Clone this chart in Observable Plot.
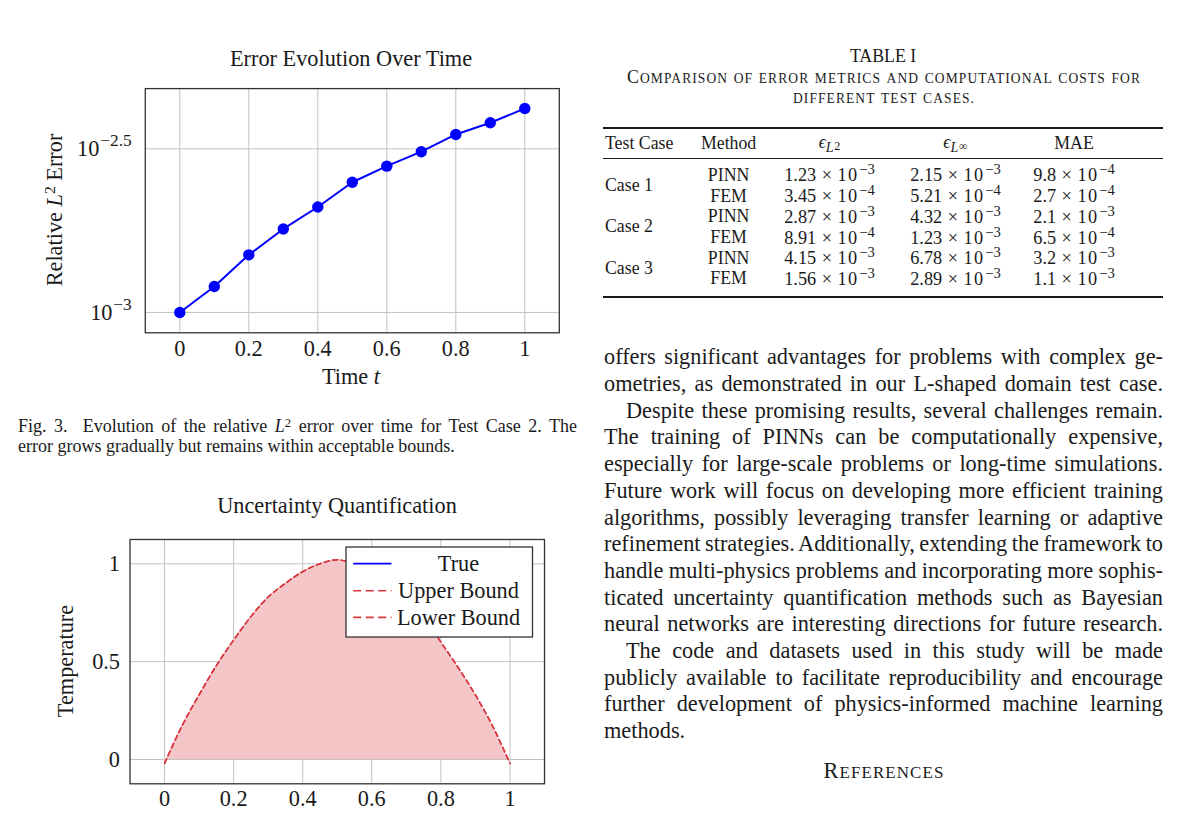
<!DOCTYPE html>
<html><head><meta charset="utf-8">
<script src="https://cdn.jsdelivr.net/npm/d3@7"></script>
<script src="https://cdn.jsdelivr.net/npm/@observablehq/plot@0.6"></script>
<style>
html,body{margin:0;padding:0;background:#fff;}
#page{position:relative;width:1200px;height:832px;overflow:hidden;background:#fff;font-family:"Liberation Serif","Times New Roman",serif;color:#1a1a1a;}
.t{position:absolute;line-height:1;white-space:nowrap;}
.sup{position:relative;top:-0.45em;font-size:0.7em;}
.vsup{position:relative;top:-0.48em;font-size:0.8em;margin-left:0.04em;}
.sub{position:relative;top:0.3em;font-size:0.8em;}
.hsup{position:relative;top:-0.2em;font-size:0.85em;margin-left:0.05em;}
.times{margin:0 0.3em;}
.ten{letter-spacing:0.08em;}
.rule{position:absolute;background:#1a1a1a;}
.abs{position:absolute;}
</style></head>
<body><div id="page"></div>
<script>
// ---------------- data: Fig. 3 (error evolution) ----------------
const timeT   = [0, 0.1, 0.2, 0.3, 0.4, 0.5, 0.6, 0.7, 0.8, 0.9, 1.0];
const relErr  = [0.00100, 0.00120, 0.00150, 0.00180, 0.00210, 0.00250, 0.00280, 0.00310, 0.00350, 0.00380, 0.00420];
const errXTicks = [0, 0.2, 0.4, 0.6, 0.8, 1];
const errYTicks = [Math.pow(10, -3), Math.pow(10, -2.5)];
const errYExp   = ["\u22123", "\u22122.5"];

// ---------------- data: uncertainty quantification ----------------
const posX       = [0, 0.05, 0.1, 0.15, 0.2, 0.25, 0.3, 0.35, 0.4, 0.45, 0.5, 0.55, 0.6, 0.65, 0.7, 0.75, 0.8, 0.85, 0.9, 0.95, 1.0];
const upperBound = [-0.02, 0.17, 0.33, 0.48, 0.61, 0.73, 0.83, 0.90, 0.96, 1.00, 1.02, 1.00, 0.96, 0.90, 0.83, 0.73, 0.60, 0.47, 0.33, 0.17, -0.02];
const lowerBound = [-0.02, 0.17, 0.33, 0.48, 0.61, 0.73, 0.83, 0.90, 0.96, 1.00, 1.02, 1.00, 0.96, 0.90, 0.83, 0.73, 0.60, 0.47, 0.33, 0.17, -0.02];
const uqXTicks = [0, 0.2, 0.4, 0.6, 0.8, 1];
const uqYTicks = [0, 0.5, 1];
const legendLabels = ["True", "Upper Bound", "Lower Bound"];

// ---------------- data: Table I ----------------
const tableCases   = ["Case 1", "Case 2", "Case 3"];
const tableMethods = ["PINN", "FEM", "PINN", "FEM", "PINN", "FEM"];
const l2Mant   = ["1.23", "3.45", "2.87", "8.91", "4.15", "1.56"];
const l2Exp    = [3, 4, 3, 4, 3, 3];
const linfMant = ["2.15", "5.21", "4.32", "1.23", "6.78", "2.89"];
const linfExp  = [3, 4, 3, 3, 3, 3];
const maeMant  = ["9.8", "2.7", "2.1", "6.5", "3.2", "1.1"];
const maeExp   = [4, 4, 3, 4, 3, 3];

// ---------------- text ----------------
const bodyLines = [
  ["offers significant advantages for problems with complex ge-", 0, true],
  ["ometries, as demonstrated in our L-shaped domain test case.", 0, true],
  ["Despite these promising results, several challenges remain.", 1, true],
  ["The training of PINNs can be computationally expensive,", 0, true],
  ["especially for large-scale problems or long-time simulations.", 0, true],
  ["Future work will focus on developing more efficient training", 0, true],
  ["algorithms, possibly leveraging transfer learning or adaptive", 0, true],
  ["refinement strategies. Additionally, extending the framework to", 0, true],
  ["handle multi-physics problems and incorporating more sophis-", 0, true],
  ["ticated uncertainty quantification methods such as Bayesian", 0, true],
  ["neural networks are interesting directions for future research.", 0, true],
  ["The code and datasets used in this study will be made", 1, true],
  ["publicly available to facilitate reproducibility and encourage", 0, true],
  ["further development of physics-informed machine learning", 0, true],
  ["methods.", 0, false]
];

const FONT = '"Liberation Serif","Times New Roman",serif';
const INK = "#1a1a1a", GRID = "#c2c2c2", FRAME = "#333", BLUE = "#0000ff", RED = "#d8363f", PINK = "#f5c6c8";
const NS = "http://www.w3.org/2000/svg";
const page = document.getElementById("page");

function place(html, x, baseline, size, anchor, extra) {
  const d = document.createElement("div");
  d.className = "t";
  d.innerHTML = html;
  d.style.fontSize = size + "px";
  d.style.left = x + "px";
  d.style.top = (baseline - 0.8375 * size) + "px";
  if (anchor === "middle") d.style.transform = "translateX(-50%)";
  else if (anchor === "end") d.style.transform = "translateX(-100%)";
  if (extra) Object.assign(d.style, extra);
  page.appendChild(d);
  return d;
}
function placeRot(html, cx, cy, size) {
  const d = document.createElement("div");
  d.className = "t";
  d.innerHTML = html;
  d.style.fontSize = size + "px";
  d.style.left = cx + "px";
  d.style.top = cy + "px";
  d.style.transform = "translate(-50%,-50%) rotate(-90deg)";
  page.appendChild(d);
  return d;
}
function justified(html, x, baseline, size, width) {
  const d = place(html, x, baseline, size, "start");
  const natural = d.getBoundingClientRect().width;
  const spaces = (d.textContent.match(/[ \u00a0]/g) || []).length;
  if (spaces > 0) d.style.wordSpacing = ((width - natural) / spaces) + "px";
  return d;
}
// small caps: capitals full size, lower case as reduced capitals, then spread to a target width
function smallCaps(text, ratio) {
  return text.split("").map(ch => {
    if (ch === " ") return " ";
    if (ch >= "A" && ch <= "Z") return ch;
    return '<span style="font-size:' + ratio + 'em">' + ch.toUpperCase() + '</span>';
  }).join("");
}
function fitLetters(d, width) {
  const natural = d.getBoundingClientRect().width;
  const n = d.textContent.length;
  d.style.letterSpacing = ((width - natural) / n) + "px";
}
function supify(svg) {
  svg.querySelectorAll("text").forEach(t => {
    if (!t.textContent.includes("^")) return;
    const [base, exp] = t.textContent.split("^");
    while (t.firstChild) t.removeChild(t.firstChild);
    const a = document.createElementNS(NS, "tspan"); a.textContent = base;
    const b = document.createElementNS(NS, "tspan"); b.textContent = exp;
    b.setAttribute("font-size", "0.78em"); b.setAttribute("dy", "-0.55em"); b.setAttribute("dx", "0.05em");
    t.appendChild(a); t.appendChild(b);
  });
}
function holder(svg, left, top) {
  const w = document.createElement("div");
  w.className = "abs"; w.style.left = left + "px"; w.style.top = top + "px";
  w.appendChild(svg); page.appendChild(w);
}

const CH = 22.3; // chart font size

// ---------------- Chart 1 ----------------
const errData = timeT.map((t, i) => ({t, e: relErr[i]}));
const c1 = Plot.plot({
  width: 600, height: 330,
  marginTop: 18.1, marginBottom: 67.7, marginLeft: 144.8, marginRight: 41.2,
  style: {fontFamily: FONT, fontSize: CH + "px", color: INK, background: "transparent", overflow: "visible"},
  x: {domain: [-0.1, 1.1], ticks: errXTicks, tickSize: 0, tickPadding: 6.9, tickFormat: d => String(d), label: null},
  y: {type: "log", domain: [Math.pow(10, -3.0622), Math.pow(10, -2.3158)], ticks: errYTicks, tickSize: 0, tickPadding: 13.5,
      tickFormat: d => "10^" + errYExp[errYTicks.indexOf(d)], label: null},
  marks: [
    Plot.ruleX(errXTicks, {stroke: GRID, strokeWidth: 1}),
    Plot.ruleY(errYTicks, {stroke: GRID, strokeWidth: 1}),
    Plot.line(errData, {x: "t", y: "e", stroke: BLUE, strokeWidth: 2}),
    Plot.dot(errData, {x: "t", y: "e", r: 5.7, fill: BLUE}),
    Plot.frame({stroke: FRAME, strokeWidth: 1.3})
  ]
});
supify(c1);
holder(c1, 0, 70);
place("Error Evolution Over Time", 351, 66.7, CH, "middle");
place("Time <i>t</i>", 351, 385, CH, "middle");
placeRot('Relative <i>L</i><span class="sup">2</span> Error', 55, 210, CH);

// caption
justified('Fig. 3.&nbsp; Evolution of the relative <i>L</i><span class="sup">2</span> error over time for Test Case 2. The', 18, 432.3, 18, 559);
place("error grows gradually but remains within acceptable bounds.", 18, 452.3, 18, "start");

// ---------------- Chart 2 ----------------
const uqData = posX.map((x, i) => ({x, up: upperBound[i], lo: lowerBound[i]}));
const c2 = Plot.plot({
  width: 600, height: 300,
  marginTop: 14, marginBottom: 41.7, marginLeft: 129.5, marginRight: 56,
  style: {fontFamily: FONT, fontSize: CH + "px", color: INK, background: "transparent", overflow: "visible"},
  x: {domain: [-0.1, 1.1], ticks: uqXTicks, tickSize: 0, tickPadding: 5.9, tickFormat: d => String(d), label: null},
  y: {domain: [-0.124, 1.124], ticks: uqYTicks, tickSize: 0, tickPadding: 10, tickFormat: d => String(d), label: null},
  marks: [
    Plot.ruleX(uqXTicks, {stroke: GRID, strokeWidth: 1}),
    Plot.ruleY(uqYTicks, {stroke: GRID, strokeWidth: 1}),
    Plot.areaY(uqData, {x: "x", y1: 0, y2: "up", fill: PINK, curve: "monotone-x"}),
    Plot.line(uqData, {x: "x", y: "lo", stroke: RED, strokeWidth: 1.5, strokeDasharray: "5,3.5", curve: "monotone-x"}),
    Plot.line(uqData, {x: "x", y: "up", stroke: RED, strokeWidth: 1.5, strokeDasharray: "5,3.5", curve: "monotone-x"}),
    Plot.frame({stroke: FRAME, strokeWidth: 1.3})
  ]
});
holder(c2, 0, 525);
place("Uncertainty Quantification", 337, 513.3, CH, "middle");
placeRot("Temperature", 65.5, 661, CH);

// legend
(function () {
  const L = 345.5, T = 547.3, W = 186.5, H = 90;
  const svg = d3.create("svg").attr("width", W + 4).attr("height", H + 4)
    .style("position", "absolute").style("left", (L - 2) + "px").style("top", (T - 2) + "px").style("overflow", "visible");
  const g = svg.append("g").attr("transform", "translate(2,2)");
  g.append("rect").attr("width", W).attr("height", H).attr("fill", "#fff").attr("stroke", FRAME).attr("stroke-width", 1.3);
  const rowsY = [16.7, 43.7, 70.4];
  const styles = [{stroke: BLUE, dash: null, w: 1.8}, {stroke: RED, dash: "8,4.5", w: 1.6}, {stroke: RED, dash: "8,4.5", w: 1.6}];
  legendLabels.forEach((lab, i) => {
    g.append("line").attr("x1", 7.2).attr("x2", 45.5).attr("y1", rowsY[i]).attr("y2", rowsY[i])
      .attr("stroke", styles[i].stroke).attr("stroke-width", styles[i].w).attr("stroke-dasharray", styles[i].dash);
    g.append("text").attr("x", 112.5).attr("y", rowsY[i] + 7.4).attr("text-anchor", "middle")
      .attr("font-family", FONT).attr("font-size", CH).attr("fill", INK).text(lab);
  });
  page.appendChild(svg.node());
})();

// ---------------- Table I ----------------
const TS = 17.8;
place("TABLE I", 883, 63.3, TS, "middle");
fitLetters(place(smallCaps("Comparison of error metrics and computational costs for", 0.76), 884, 84.3, TS, "middle"), 514);
fitLetters(place(smallCaps("different test cases.", 0.76), 884, 104, TS, "middle"), 182);
function rule(y, h) {
  const r = document.createElement("div"); r.className = "rule";
  r.style.left = "603px"; r.style.width = "560px"; r.style.top = (y - h / 2) + "px"; r.style.height = h + "px";
  page.appendChild(r);
}
rule(127.7, 1.8); rule(158.3, 1.2); rule(296.7, 1.8);
const colC = [728.6, 829.5, 955.5, 1074];
place("Test Case", 605, 150, TS, "start");
place("Method", colC[0], 150, TS, "middle");
place('<i>\u03f5</i><span class="sub"><i>L</i><span class="hsup">2</span></span>', colC[1], 149, TS, "middle");
place('<i>\u03f5</i><span class="sub"><i>L</i><span class="hsup">\u221e</span></span>', colC[2], 149, TS, "middle");
place("MAE", colC[3], 150, TS, "middle");
const rowBase = [181.7, 202.7, 223, 244, 264.5, 285];
const caseBase = [192.3, 233.3, 275];
const fmt = (m, e) => m + '<span class="times">\u00d7</span><span class="ten">10</span><span class="vsup">\u2212' + e + '</span>';
tableCases.forEach((c, i) => place(c, 605, caseBase[i], TS, "start"));
tableMethods.forEach((m, i) => {
  place(m, colC[0], rowBase[i], TS, "middle");
  place(fmt(l2Mant[i], l2Exp[i]), colC[1], rowBase[i], 18.3, "middle");
  place(fmt(linfMant[i], linfExp[i]), colC[2], rowBase[i], 18.3, "middle");
  place(fmt(maeMant[i], maeExp[i]), colC[3], rowBase[i], 18.3, "middle");
});

// ---------------- body text ----------------
const BS = 22.3, BX = 604, BW = 559, IND = 22;
bodyLines.forEach(([txt, indent, just], i) => {
  const base = 365 + i * 26.7;
  const x = BX + (indent ? IND : 0);
  if (just) justified(txt, x, base, BS, BW - (indent ? IND : 0));
  else place(txt, x, base, BS, "start");
});
fitLetters(place(smallCaps("References", 0.76), 884, 778.3, 22.3, "middle"), 121);
</script>
</body></html>
